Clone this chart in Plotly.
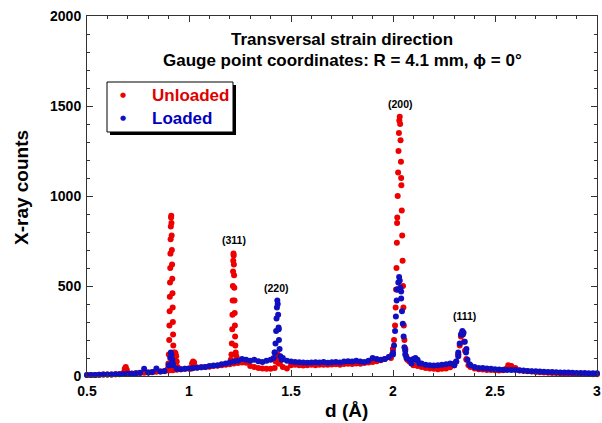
import plotly.graph_objects as go

# ---------------- data ----------------
# sampling grid of the baseline (d in Angstrom, 0.50 .. 3.00 step 0.02)
grid_d = [round(0.50 + 0.02 * i, 2) for i in range(126)]

unloaded_base = [
    5, 6, 6, 7, 8, 8, 9, 10, 11, 12,
    13, 14, 15, 17, 18, 20, 21, 23, 25, 27,
    30, 32, 35, 38, 40, 42, 45, 47, 48, 50,
    52, 55, 57, 60, 62, 65, 70, 72, 75, 73,
    55, 50, 45, 42, 40, 40, 45, 70, 50, 42,
    60, 62, 60, 58, 60, 62, 60, 62, 63, 62,
    64, 65, 63, 66, 68, 67, 70, 68, 72, 75,
    78, 82, 88, 95, 105, 150, 850, 1100, 150, 80,
    60, 55, 50, 45, 42, 40, 38, 40, 42, 48,
    60, 120, 235, 95, 50, 42, 38, 36, 34, 33,
    32, 30, 32, 40, 55, 45, 30, 28, 26, 25,
    22, 21, 20, 18, 17, 16, 15, 14, 14, 13,
    12, 12, 11, 11, 10, 10,
]

loaded_base = [
    5, 6, 6, 7, 8, 8, 9, 10, 10, 11,
    12, 13, 15, 18, 40, 20, 22, 42, 25, 28,
    60, 70, 40, 38, 40, 42, 45, 46, 48, 50,
    55, 58, 60, 65, 70, 75, 80, 85, 95, 90,
    85, 90, 82, 78, 85, 90, 130, 260, 100, 85,
    80, 78, 76, 75, 74, 75, 76, 75, 78, 74,
    76, 78, 75, 80, 82, 80, 85, 80, 78, 85,
    100, 95, 90, 95, 105, 130, 480, 470, 140, 90,
    95, 90, 70, 62, 60, 58, 60, 62, 65, 70,
    70, 110, 230, 150, 60, 50, 45, 44, 42, 40,
    38, 36, 35, 34, 34, 33, 32, 30, 28, 27,
    26, 25, 24, 22, 22, 21, 20, 20, 19, 18,
    17, 16, 16, 15, 15, 15,
]

# finely sampled peak regions, unloaded
unloaded_peak_d = [
    0.680, 0.685, 0.690, 0.695, 0.700,
    0.896, 0.899, 0.901, 0.903, 0.904, 0.905, 0.906, 0.907, 0.908, 0.909,
    0.910, 0.911, 0.912, 0.913, 0.914, 0.915, 0.916, 0.917, 0.918, 0.919,
    0.920, 0.921, 0.922, 0.923, 0.925, 0.928, 0.931, 0.934, 0.937, 0.940, 0.944,
    1.010, 1.015, 1.020, 1.025, 1.030,
    1.205, 1.208, 1.210, 1.212, 1.213, 1.214, 1.215, 1.216, 1.217, 1.218,
    1.219, 1.220, 1.221, 1.222, 1.223, 1.224, 1.225, 1.226, 1.227, 1.229,
    1.232, 1.236,
    1.425, 1.430, 1.435, 1.440, 1.445,
    1.990, 1.995, 2.000, 2.005, 2.010, 2.013, 2.015, 2.017, 2.019, 2.021,
    2.023, 2.025, 2.027, 2.029, 2.031, 2.033, 2.035, 2.037, 2.039, 2.041,
    2.043, 2.045, 2.047, 2.049, 2.051, 2.053, 2.056, 2.060, 2.065, 2.070,
    2.300, 2.310, 2.320, 2.327, 2.333, 2.338, 2.343, 2.348, 2.353, 2.360, 2.370,
    2.555, 2.565, 2.575, 2.585,
]
unloaded_peak_counts = [
    20, 40, 50, 35, 18,
    40, 70, 120, 200, 280, 360, 440, 520, 600, 680,
    760, 830, 880, 890, 850, 780, 700, 620, 540, 460,
    380, 300, 230, 170, 130, 120, 130, 125, 110, 80, 50,
    40, 70, 80, 75, 50,
    90, 120, 180, 260, 340, 420, 500, 580, 640, 680,
    670, 620, 560, 490, 420, 350, 280, 220, 170, 130,
    110, 95,
    80, 110, 120, 100, 70,
    100, 120, 150, 200, 280, 380, 480, 600, 740, 880,
    1000, 1130, 1250, 1350, 1420, 1440, 1400, 1310, 1190, 1060,
    920, 780, 640, 500, 380, 280, 200, 150, 110, 90,
    60, 80, 120, 170, 220, 240, 230, 190, 140, 90, 60,
    40, 60, 55, 40,
]

# finely sampled peak regions, loaded
loaded_peak_d = [
    0.905, 0.908, 0.911, 0.914, 0.918, 0.922,
    1.415, 1.420, 1.424, 1.427, 1.429, 1.431, 1.433, 1.435, 1.437, 1.439,
    1.441, 1.444, 1.448, 1.455,
    2.000, 2.005, 2.010, 2.014, 2.018, 2.022, 2.026, 2.030, 2.033, 2.036,
    2.040, 2.044, 2.048, 2.052, 2.056, 2.060, 2.066,
    2.090, 2.100, 2.110, 2.120, 2.130,
    2.300, 2.310, 2.320, 2.327, 2.333, 2.340, 2.346, 2.352, 2.358, 2.365, 2.375,
]
loaded_peak_counts = [
    60, 100, 130, 120, 90, 60,
    100, 130, 180, 250, 320, 380, 420, 400, 340, 270,
    200, 150, 110, 90,
    120, 170, 250, 330, 420, 480, 520, 550, 530, 490,
    430, 360, 290, 220, 160, 120, 100,
    70, 90, 100, 85, 70,
    60, 80, 130, 180, 230, 250, 240, 190, 130, 90, 65,
]

# peak labels
peak_labels = ["(311)", "(220)", "(200)", "(111)"]
peak_label_d = [1.22, 1.43, 2.035, 2.35]
peak_label_counts = [755, 490, 1510, 333]

x_tickvals = [0.5, 1, 1.5, 2, 2.5, 3]
x_ticktext = ["0.5", "1", "1.5", "2", "2.5", "3"]
y_tickvals = [0, 500, 1000, 1500, 2000]
y_ticktext = ["0", "500", "1000", "1500", "2000"]

series_names = ["Unloaded", "Loaded"]

# ---------------- figure ----------------
RED = "#ee0000"
BLUE = "#1010c0"
FONT = "Liberation Sans, Arial, sans-serif"


def merged(base_x, base_y, px, py):
    pts = sorted(list(zip(base_x, base_y)) + list(zip(px, py)))
    return [p[0] for p in pts], [p[1] for p in pts]


ux, uy = merged(grid_d, unloaded_base, unloaded_peak_d, unloaded_peak_counts)
lx, ly = merged(grid_d, loaded_base, loaded_peak_d, loaded_peak_counts)

fig = go.Figure()
fig.add_trace(go.Scatter(
    x=ux, y=uy, mode="markers", name=series_names[0], showlegend=False,
    marker=dict(color=RED, size=6, line=dict(width=0)), cliponaxis=False))
fig.add_trace(go.Scatter(
    x=lx, y=ly, mode="markers", name=series_names[1], showlegend=False,
    marker=dict(color=BLUE, size=6, line=dict(width=0)), cliponaxis=False))

W, H = 602, 423
ML, MR, MT, MB = 87, 5, 16, 47
PW, PH = W - ML - MR, H - MT - MB


def px(xp):
    return (xp - ML) / PW


def py(yp):
    return (H - MB - yp) / PH


def note(text, xp, yp, size, color="black", family=FONT, bold=True, **kw):
    d = dict(text=text, x=px(xp), y=py(yp), xref="paper", yref="paper",
             xanchor=kw.pop("xanchor", "center"), yanchor="middle", showarrow=False,
             font=dict(family=family, size=size, color=color,
                       weight="bold" if bold else "normal"))
    d.update(kw)
    return d


annotations = []
# titles
annotations.append(note("Transversal strain direction", 342, 40, 17))
annotations.append(note("Gauge point coordinates: R = 4.1 mm, \u03d5 = 0\u00b0", 342, 60, 17))
# peak labels
for t, xd, yd in zip(peak_labels, peak_label_d, peak_label_counts):
    annotations.append(dict(text=t, x=xd, y=yd, xref="x", yref="y", showarrow=False,
                            xanchor="center", yanchor="middle",
                            font=dict(family=FONT, size=10.5, color="black", weight="bold")))
# axis titles
annotations.append(note("X-ray counts", 21, 188, 19, textangle=-90))
annotations.append(note("d (\u00c5)", 346, 410, 19))
# legend entries
for name, col, dotcol, yy in [(series_names[0], "#e00000", RED, 95), (series_names[1], "#0000c0", BLUE, 118)]:
    annotations.append(note("\u25cf", 123, yy, 7, color=dotcol, family="DejaVu Sans", bold=False))
    annotations.append(note(name, 150, yy, 17, color=col, xanchor="left"))

shapes = [
    dict(type="rect", xref="paper", yref="paper", x0=px(110), x1=px(236), y0=py(85), y1=py(135),
         fillcolor="black", line=dict(width=0), layer="above"),
    dict(type="rect", xref="paper", yref="paper", x0=px(107), x1=px(233), y0=py(82), y1=py(132),
         fillcolor="white", line=dict(color="black", width=1), layer="above"),
]

axis_common = dict(
    ticks="inside", ticklen=6, tickwidth=1, tickcolor="#333",
    showline=True, linecolor="#333", linewidth=1, mirror="ticks",
    showgrid=False, zeroline=False, automargin=False,
    tickfont=dict(family=FONT, size=14, color="black", weight="bold"),
)

fig.update_layout(
    width=W, height=H,
    margin=dict(l=ML, r=MR, t=MT, b=MB),
    paper_bgcolor="white", plot_bgcolor="white",
    showlegend=False,
    annotations=annotations, shapes=shapes,
    xaxis=dict(range=[0.5, 3.0], tickvals=x_tickvals, ticktext=x_ticktext,
               minor=dict(tick0=0.5, dtick=0.1, ticks="inside", ticklen=3, tickcolor="#333"),
               ticklabelstandoff=2, **axis_common),
    yaxis=dict(range=[0, 2000], tickvals=y_tickvals, ticktext=y_ticktext,
               minor=dict(tick0=0, dtick=100, ticks="inside", ticklen=3, tickcolor="#333"),
               ticklabelstandoff=2, **axis_common),
)

fig.write_html("out.html", config={"displayModeBar": False},
               post_script="document.body.style.margin='0px';")
